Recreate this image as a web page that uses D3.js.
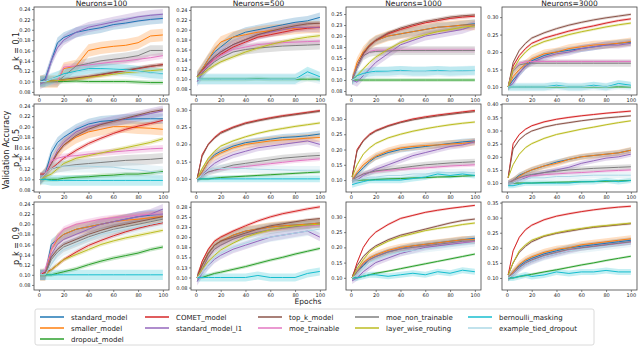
<!DOCTYPE html>
<html>
<head>
<meta charset="utf-8">
<script src="https://cdn.jsdelivr.net/npm/d3@7"></script>
<style>
  body { margin: 0; background: #fff; }
  text { font-family: "DejaVu Sans", sans-serif; fill: #222; }
</style>
</head>
<body>
<div id="chart"></div>
<script>
const epochs = [1, 5, 10, 15, 20, 30, 40, 50, 60, 70, 80, 90, 100];

const seriesNames = ["standard_model", "smaller_model", "dropout_model", "COMET_model",
  "standard_model_l1", "top_k_model", "moe_trainable", "moe_non_trainable",
  "layer_wise_routing", "bernoulli_masking", "example_tied_dropout"];
const seriesColors = ["#1f77b4", "#ff7f0e", "#2ca02c", "#d62728", "#9467bd", "#8c564b",
  "#e377c2", "#7f7f7f", "#bcbd22", "#17becf", "#add8e6"];
// half width of the shaded std band, per series
const bandHalf = [0.010, 0.012, 0.004, 0.004, 0.010, 0.004, 0.006, 0.010, 0.004, 0.010, 0.012];

const neurons = [100, 500, 1000, 3000];
const pkValues = ["0.1", "0.5", "0.9"];
const xTicks = [0, 20, 40, 60, 80, 100];

// --- p_k = 0.1 ---
const acc_p01_n100 = [
  [0.100, 0.105, 0.140, 0.175, 0.185, 0.195, 0.200, 0.204, 0.210, 0.213, 0.217, 0.220, 0.222],
  [0.100, 0.100, 0.100, 0.100, 0.125, 0.130, 0.160, 0.165, 0.168, 0.170, 0.175, 0.188, 0.190],
  [0.100, 0.100, 0.100, 0.100, 0.100, 0.101, 0.100, 0.100, 0.100, 0.100, 0.099, 0.098, 0.098],
  [0.100, 0.100, 0.101, 0.102, 0.103, 0.106, 0.109, 0.113, 0.117, 0.121, 0.125, 0.129, 0.133],
  [0.095, 0.100, 0.140, 0.165, 0.180, 0.195, 0.205, 0.210, 0.215, 0.220, 0.225, 0.228, 0.230],
  [0.100, 0.100, 0.101, 0.102, 0.104, 0.107, 0.110, 0.114, 0.118, 0.122, 0.126, 0.130, 0.132],
  [0.100, 0.100, 0.100, 0.100, 0.128, 0.130, 0.132, 0.135, 0.138, 0.140, 0.143, 0.146, 0.150],
  [0.100, 0.100, 0.100, 0.100, 0.110, 0.130, 0.135, 0.140, 0.143, 0.146, 0.150, 0.160, 0.160],
  [0.100, 0.100, 0.101, 0.102, 0.103, 0.105, 0.108, 0.111, 0.114, 0.117, 0.119, 0.121, 0.123],
  [0.100, 0.100, 0.105, 0.110, 0.115, 0.120, 0.125, 0.125, 0.124, 0.123, 0.120, 0.117, 0.115],
  [0.100, 0.100, 0.105, 0.108, 0.112, 0.118, 0.122, 0.123, 0.122, 0.121, 0.119, 0.116, 0.114]
];
const acc_p01_n500 = [
  [0.105, 0.120, 0.140, 0.155, 0.165, 0.185, 0.195, 0.200, 0.205, 0.210, 0.215, 0.218, 0.225],
  [0.105, 0.120, 0.140, 0.160, 0.175, 0.185, 0.190, 0.195, 0.198, 0.200, 0.203, 0.205, 0.205],
  [0.100, 0.100, 0.100, 0.100, 0.100, 0.100, 0.100, 0.101, 0.100, 0.100, 0.100, 0.100, 0.100],
  [0.105, 0.115, 0.130, 0.140, 0.150, 0.165, 0.175, 0.185, 0.190, 0.195, 0.200, 0.203, 0.205],
  [0.095, 0.110, 0.130, 0.145, 0.155, 0.170, 0.180, 0.190, 0.195, 0.200, 0.205, 0.205, 0.205],
  [0.105, 0.118, 0.133, 0.145, 0.155, 0.170, 0.180, 0.190, 0.197, 0.203, 0.208, 0.212, 0.213],
  [0.105, 0.115, 0.128, 0.140, 0.148, 0.160, 0.165, 0.170, 0.172, 0.174, 0.175, 0.176, 0.177],
  [0.105, 0.113, 0.125, 0.135, 0.143, 0.155, 0.160, 0.163, 0.165, 0.167, 0.168, 0.169, 0.170],
  [0.105, 0.110, 0.120, 0.128, 0.135, 0.145, 0.155, 0.163, 0.170, 0.176, 0.181, 0.185, 0.188],
  [0.100, 0.100, 0.100, 0.100, 0.100, 0.100, 0.100, 0.100, 0.100, 0.100, 0.100, 0.115, 0.105],
  [0.100, 0.100, 0.100, 0.100, 0.100, 0.100, 0.100, 0.100, 0.100, 0.100, 0.100, 0.108, 0.102]
];
const acc_p01_n1000 = [
  [0.100, 0.130, 0.160, 0.180, 0.190, 0.200, 0.205, 0.210, 0.215, 0.220, 0.222, 0.225, 0.228],
  [0.100, 0.140, 0.165, 0.180, 0.190, 0.200, 0.205, 0.210, 0.215, 0.220, 0.222, 0.225, 0.225],
  [0.100, 0.100, 0.100, 0.100, 0.100, 0.100, 0.100, 0.100, 0.100, 0.100, 0.100, 0.100, 0.100],
  [0.100, 0.130, 0.160, 0.178, 0.190, 0.205, 0.215, 0.223, 0.230, 0.235, 0.240, 0.243, 0.245],
  [0.100, 0.095, 0.110, 0.125, 0.140, 0.160, 0.180, 0.190, 0.200, 0.205, 0.210, 0.215, 0.225],
  [0.100, 0.130, 0.160, 0.178, 0.190, 0.207, 0.218, 0.226, 0.233, 0.238, 0.243, 0.246, 0.248],
  [0.100, 0.130, 0.155, 0.165, 0.168, 0.168, 0.168, 0.168, 0.168, 0.168, 0.168, 0.168, 0.168],
  [0.100, 0.130, 0.155, 0.163, 0.165, 0.166, 0.167, 0.167, 0.167, 0.167, 0.167, 0.167, 0.167],
  [0.100, 0.110, 0.125, 0.140, 0.152, 0.170, 0.185, 0.195, 0.203, 0.210, 0.215, 0.220, 0.223],
  [0.100, 0.110, 0.115, 0.118, 0.120, 0.120, 0.122, 0.120, 0.120, 0.122, 0.120, 0.121, 0.122],
  [0.100, 0.105, 0.112, 0.115, 0.117, 0.118, 0.120, 0.119, 0.119, 0.120, 0.119, 0.120, 0.121]
];
const acc_p01_n3000 = [
  [0.100, 0.120, 0.140, 0.160, 0.175, 0.190, 0.200, 0.205, 0.210, 0.215, 0.220, 0.225, 0.228],
  [0.100, 0.130, 0.150, 0.165, 0.180, 0.195, 0.200, 0.210, 0.215, 0.220, 0.222, 0.225, 0.230],
  [0.100, 0.100, 0.100, 0.100, 0.100, 0.100, 0.100, 0.100, 0.100, 0.100, 0.100, 0.100, 0.100],
  [0.100, 0.160, 0.190, 0.210, 0.225, 0.240, 0.250, 0.260, 0.268, 0.275, 0.283, 0.290, 0.295],
  [0.100, 0.110, 0.140, 0.160, 0.170, 0.185, 0.195, 0.200, 0.210, 0.215, 0.220, 0.220, 0.225],
  [0.100, 0.170, 0.205, 0.225, 0.240, 0.255, 0.267, 0.277, 0.285, 0.292, 0.298, 0.303, 0.308],
  [0.100, 0.150, 0.168, 0.172, 0.173, 0.173, 0.173, 0.173, 0.173, 0.173, 0.173, 0.173, 0.173],
  [0.100, 0.145, 0.163, 0.167, 0.168, 0.168, 0.168, 0.168, 0.168, 0.168, 0.168, 0.168, 0.168],
  [0.100, 0.150, 0.180, 0.200, 0.215, 0.230, 0.240, 0.250, 0.258, 0.265, 0.272, 0.278, 0.283],
  [0.100, 0.100, 0.100, 0.100, 0.100, 0.100, 0.105, 0.100, 0.100, 0.105, 0.100, 0.110, 0.105],
  [0.100, 0.100, 0.100, 0.100, 0.100, 0.100, 0.102, 0.100, 0.100, 0.102, 0.100, 0.105, 0.102]
];

// --- p_k = 0.5 ---
const acc_p05_n100 = [
  [0.100, 0.110, 0.150, 0.170, 0.180, 0.195, 0.205, 0.210, 0.212, 0.214, 0.215, 0.215, 0.215],
  [0.100, 0.110, 0.130, 0.150, 0.165, 0.180, 0.190, 0.195, 0.200, 0.200, 0.198, 0.197, 0.195],
  [0.100, 0.100, 0.100, 0.100, 0.102, 0.104, 0.105, 0.107, 0.108, 0.110, 0.110, 0.112, 0.115],
  [0.110, 0.110, 0.120, 0.130, 0.140, 0.155, 0.168, 0.178, 0.187, 0.195, 0.201, 0.206, 0.212],
  [0.100, 0.110, 0.130, 0.155, 0.170, 0.190, 0.200, 0.205, 0.210, 0.215, 0.220, 0.225, 0.230],
  [0.100, 0.110, 0.130, 0.150, 0.165, 0.183, 0.195, 0.204, 0.210, 0.216, 0.222, 0.228, 0.232],
  [0.100, 0.110, 0.135, 0.140, 0.143, 0.145, 0.148, 0.150, 0.152, 0.154, 0.156, 0.158, 0.159],
  [0.100, 0.110, 0.120, 0.123, 0.125, 0.128, 0.130, 0.132, 0.134, 0.136, 0.137, 0.138, 0.140],
  [0.100, 0.105, 0.110, 0.120, 0.130, 0.140, 0.145, 0.150, 0.155, 0.160, 0.165, 0.170, 0.177],
  [0.100, 0.100, 0.098, 0.098, 0.098, 0.098, 0.098, 0.098, 0.098, 0.098, 0.098, 0.098, 0.098],
  [0.100, 0.110, 0.120, 0.125, 0.125, 0.125, 0.125, 0.124, 0.123, 0.120, 0.118, 0.115, 0.113]
];
const acc_p05_n500 = [
  [0.100, 0.120, 0.150, 0.170, 0.180, 0.195, 0.205, 0.210, 0.215, 0.220, 0.222, 0.225, 0.230],
  [0.100, 0.120, 0.150, 0.165, 0.175, 0.190, 0.200, 0.205, 0.210, 0.213, 0.215, 0.218, 0.220],
  [0.100, 0.100, 0.100, 0.102, 0.104, 0.106, 0.108, 0.110, 0.112, 0.114, 0.116, 0.118, 0.120],
  [0.100, 0.170, 0.200, 0.220, 0.235, 0.250, 0.262, 0.270, 0.277, 0.283, 0.288, 0.293, 0.298],
  [0.100, 0.110, 0.130, 0.145, 0.155, 0.170, 0.180, 0.190, 0.195, 0.200, 0.205, 0.210, 0.200],
  [0.100, 0.165, 0.200, 0.218, 0.232, 0.248, 0.260, 0.268, 0.275, 0.281, 0.286, 0.291, 0.296],
  [0.100, 0.110, 0.120, 0.125, 0.128, 0.132, 0.136, 0.140, 0.144, 0.148, 0.152, 0.155, 0.158],
  [0.100, 0.110, 0.120, 0.125, 0.130, 0.140, 0.145, 0.150, 0.155, 0.160, 0.163, 0.166, 0.168],
  [0.100, 0.130, 0.160, 0.180, 0.195, 0.210, 0.222, 0.232, 0.240, 0.246, 0.252, 0.257, 0.262],
  [0.100, 0.100, 0.100, 0.100, 0.100, 0.100, 0.100, 0.100, 0.100, 0.100, 0.100, 0.100, 0.100],
  [0.100, 0.110, 0.125, 0.130, 0.130, 0.130, 0.130, 0.128, 0.127, 0.126, 0.125, 0.125, 0.125]
];
const acc_p05_n1000 = [
  [0.100, 0.120, 0.140, 0.160, 0.175, 0.190, 0.200, 0.205, 0.210, 0.215, 0.220, 0.225, 0.228],
  [0.100, 0.125, 0.150, 0.165, 0.178, 0.195, 0.205, 0.210, 0.213, 0.215, 0.218, 0.220, 0.225],
  [0.100, 0.100, 0.100, 0.100, 0.102, 0.104, 0.105, 0.107, 0.108, 0.110, 0.111, 0.113, 0.115],
  [0.110, 0.200, 0.230, 0.250, 0.262, 0.278, 0.290, 0.300, 0.307, 0.313, 0.318, 0.323, 0.328],
  [0.100, 0.100, 0.115, 0.125, 0.135, 0.150, 0.165, 0.180, 0.190, 0.200, 0.210, 0.215, 0.225],
  [0.110, 0.195, 0.228, 0.247, 0.260, 0.276, 0.288, 0.297, 0.304, 0.310, 0.315, 0.320, 0.324],
  [0.100, 0.110, 0.120, 0.125, 0.128, 0.132, 0.135, 0.138, 0.140, 0.143, 0.146, 0.148, 0.150],
  [0.100, 0.110, 0.120, 0.125, 0.130, 0.135, 0.140, 0.145, 0.150, 0.153, 0.156, 0.158, 0.160],
  [0.110, 0.150, 0.185, 0.205, 0.220, 0.238, 0.250, 0.260, 0.268, 0.275, 0.281, 0.286, 0.290],
  [0.085, 0.090, 0.095, 0.100, 0.100, 0.100, 0.100, 0.105, 0.110, 0.120, 0.115, 0.120, 0.115],
  [0.100, 0.100, 0.105, 0.110, 0.110, 0.115, 0.115, 0.120, 0.120, 0.125, 0.125, 0.125, 0.125]
];
const acc_p05_n3000 = [
  [0.100, 0.110, 0.130, 0.140, 0.150, 0.165, 0.180, 0.190, 0.200, 0.205, 0.210, 0.215, 0.225],
  [0.100, 0.110, 0.125, 0.140, 0.150, 0.165, 0.175, 0.190, 0.200, 0.205, 0.210, 0.215, 0.225],
  [0.100, 0.100, 0.100, 0.100, 0.100, 0.102, 0.103, 0.104, 0.105, 0.106, 0.107, 0.108, 0.110],
  [0.120, 0.250, 0.285, 0.305, 0.318, 0.333, 0.343, 0.350, 0.356, 0.361, 0.366, 0.370, 0.374],
  [0.100, 0.100, 0.110, 0.120, 0.130, 0.140, 0.150, 0.160, 0.175, 0.185, 0.195, 0.200, 0.210],
  [0.120, 0.230, 0.265, 0.285, 0.298, 0.313, 0.323, 0.330, 0.337, 0.343, 0.348, 0.352, 0.356],
  [0.100, 0.110, 0.120, 0.125, 0.128, 0.132, 0.135, 0.138, 0.140, 0.143, 0.146, 0.148, 0.150],
  [0.100, 0.110, 0.120, 0.128, 0.133, 0.140, 0.145, 0.150, 0.153, 0.156, 0.158, 0.160, 0.162],
  [0.120, 0.170, 0.210, 0.235, 0.250, 0.270, 0.285, 0.295, 0.305, 0.313, 0.322, 0.330, 0.337],
  [0.090, 0.090, 0.095, 0.100, 0.100, 0.100, 0.100, 0.100, 0.105, 0.105, 0.110, 0.105, 0.110],
  [0.100, 0.100, 0.110, 0.115, 0.120, 0.120, 0.125, 0.125, 0.128, 0.130, 0.130, 0.130, 0.130]
];

// --- p_k = 0.9 ---
const acc_p09_n100 = [
  [0.100, 0.100, 0.160, 0.170, 0.180, 0.190, 0.195, 0.200, 0.205, 0.210, 0.215, 0.218, 0.220],
  [0.100, 0.100, 0.150, 0.170, 0.180, 0.190, 0.195, 0.200, 0.205, 0.208, 0.210, 0.213, 0.215],
  [0.100, 0.100, 0.100, 0.103, 0.106, 0.112, 0.120, 0.127, 0.133, 0.138, 0.143, 0.150, 0.155],
  [0.100, 0.105, 0.110, 0.120, 0.130, 0.145, 0.158, 0.168, 0.177, 0.185, 0.192, 0.198, 0.203],
  [0.100, 0.100, 0.140, 0.160, 0.170, 0.180, 0.190, 0.200, 0.205, 0.210, 0.215, 0.220, 0.230],
  [0.100, 0.100, 0.135, 0.150, 0.160, 0.170, 0.180, 0.188, 0.195, 0.200, 0.205, 0.210, 0.215],
  [0.100, 0.110, 0.150, 0.175, 0.190, 0.200, 0.205, 0.210, 0.213, 0.215, 0.218, 0.220, 0.220],
  [0.100, 0.100, 0.130, 0.145, 0.155, 0.165, 0.175, 0.183, 0.190, 0.195, 0.200, 0.205, 0.210],
  [0.100, 0.100, 0.110, 0.120, 0.130, 0.140, 0.150, 0.160, 0.167, 0.173, 0.178, 0.183, 0.188],
  [0.100, 0.100, 0.100, 0.100, 0.100, 0.100, 0.100, 0.100, 0.100, 0.100, 0.100, 0.100, 0.100],
  [0.100, 0.100, 0.120, 0.140, 0.150, 0.160, 0.170, 0.180, 0.185, 0.190, 0.195, 0.200, 0.205]
];
const acc_p09_n500 = [
  [0.100, 0.130, 0.160, 0.180, 0.190, 0.205, 0.215, 0.220, 0.225, 0.228, 0.230, 0.232, 0.235],
  [0.100, 0.130, 0.160, 0.180, 0.190, 0.205, 0.215, 0.220, 0.225, 0.228, 0.230, 0.232, 0.235],
  [0.100, 0.100, 0.105, 0.110, 0.113, 0.120, 0.127, 0.135, 0.143, 0.150, 0.158, 0.165, 0.172],
  [0.100, 0.140, 0.170, 0.190, 0.200, 0.215, 0.228, 0.240, 0.250, 0.258, 0.264, 0.270, 0.275],
  [0.090, 0.110, 0.130, 0.145, 0.155, 0.170, 0.180, 0.190, 0.200, 0.205, 0.210, 0.215, 0.200],
  [0.100, 0.130, 0.160, 0.180, 0.190, 0.200, 0.210, 0.220, 0.228, 0.233, 0.238, 0.243, 0.246],
  [0.100, 0.120, 0.150, 0.170, 0.180, 0.195, 0.205, 0.212, 0.218, 0.222, 0.226, 0.228, 0.230],
  [0.100, 0.120, 0.150, 0.170, 0.180, 0.195, 0.205, 0.212, 0.218, 0.222, 0.226, 0.230, 0.232],
  [0.100, 0.120, 0.140, 0.155, 0.168, 0.185, 0.200, 0.210, 0.218, 0.224, 0.228, 0.230, 0.232],
  [0.100, 0.100, 0.100, 0.100, 0.100, 0.100, 0.100, 0.105, 0.100, 0.100, 0.100, 0.110, 0.115],
  [0.100, 0.110, 0.130, 0.150, 0.160, 0.175, 0.185, 0.195, 0.200, 0.205, 0.210, 0.215, 0.220]
];
const acc_p09_n1000 = [
  [0.100, 0.120, 0.140, 0.160, 0.170, 0.185, 0.195, 0.205, 0.210, 0.215, 0.220, 0.225, 0.230],
  [0.100, 0.120, 0.150, 0.165, 0.175, 0.190, 0.200, 0.205, 0.210, 0.215, 0.220, 0.225, 0.225],
  [0.100, 0.100, 0.105, 0.110, 0.115, 0.122, 0.130, 0.138, 0.146, 0.154, 0.162, 0.170, 0.178],
  [0.100, 0.150, 0.200, 0.230, 0.250, 0.275, 0.295, 0.305, 0.315, 0.322, 0.328, 0.333, 0.338],
  [0.090, 0.100, 0.120, 0.135, 0.150, 0.165, 0.180, 0.190, 0.200, 0.205, 0.210, 0.215, 0.220],
  [0.100, 0.140, 0.170, 0.190, 0.205, 0.225, 0.240, 0.250, 0.260, 0.270, 0.280, 0.288, 0.293],
  [0.100, 0.120, 0.145, 0.160, 0.170, 0.185, 0.195, 0.200, 0.205, 0.210, 0.215, 0.218, 0.220],
  [0.100, 0.120, 0.145, 0.160, 0.170, 0.185, 0.195, 0.200, 0.205, 0.210, 0.215, 0.220, 0.222],
  [0.100, 0.130, 0.160, 0.185, 0.200, 0.220, 0.235, 0.245, 0.255, 0.262, 0.268, 0.275, 0.280],
  [0.100, 0.100, 0.105, 0.110, 0.110, 0.105, 0.110, 0.115, 0.110, 0.120, 0.115, 0.125, 0.120],
  [0.100, 0.110, 0.130, 0.150, 0.160, 0.175, 0.185, 0.190, 0.195, 0.200, 0.205, 0.210, 0.215]
];
const acc_p09_n3000 = [
  [0.100, 0.120, 0.140, 0.155, 0.165, 0.180, 0.190, 0.200, 0.205, 0.210, 0.215, 0.220, 0.225],
  [0.100, 0.120, 0.145, 0.160, 0.170, 0.185, 0.195, 0.200, 0.210, 0.215, 0.220, 0.225, 0.230],
  [0.100, 0.100, 0.105, 0.108, 0.112, 0.120, 0.127, 0.135, 0.143, 0.150, 0.158, 0.165, 0.172],
  [0.110, 0.190, 0.235, 0.260, 0.275, 0.293, 0.305, 0.313, 0.320, 0.326, 0.331, 0.335, 0.338],
  [0.100, 0.110, 0.130, 0.145, 0.155, 0.170, 0.180, 0.190, 0.200, 0.205, 0.210, 0.215, 0.220],
  [0.110, 0.150, 0.185, 0.205, 0.220, 0.238, 0.248, 0.255, 0.262, 0.268, 0.272, 0.276, 0.280],
  [0.100, 0.115, 0.135, 0.150, 0.160, 0.175, 0.185, 0.193, 0.200, 0.205, 0.210, 0.213, 0.217],
  [0.100, 0.115, 0.135, 0.150, 0.160, 0.175, 0.185, 0.195, 0.200, 0.205, 0.210, 0.215, 0.220],
  [0.110, 0.150, 0.190, 0.210, 0.225, 0.240, 0.250, 0.258, 0.264, 0.270, 0.274, 0.278, 0.282],
  [0.100, 0.100, 0.105, 0.110, 0.105, 0.110, 0.120, 0.115, 0.120, 0.120, 0.125, 0.120, 0.120],
  [0.100, 0.110, 0.130, 0.145, 0.155, 0.170, 0.180, 0.190, 0.195, 0.200, 0.205, 0.210, 0.215]
];

const panelData = [
  [acc_p01_n100, acc_p01_n500, acc_p01_n1000, acc_p01_n3000],
  [acc_p05_n100, acc_p05_n500, acc_p05_n1000, acc_p05_n3000],
  [acc_p09_n100, acc_p09_n500, acc_p09_n1000, acc_p09_n3000]
];

// y ranges and tick steps per panel (row = p_k, col = neurons)
const yDomains = [
  [[0.074, 0.244], [0.068, 0.246], [0.066, 0.266], [0.077, 0.329]],
  [[0.076, 0.243], [0.062, 0.317], [0.061, 0.349], [0.066, 0.401]],
  [[0.070, 0.244], [0.069, 0.287], [0.060, 0.349], [0.060, 0.352]]
];
const yTickSteps = [
  [0.02, 0.02, 0.025, 0.05],
  [0.02, 0.05, 0.05, 0.05],
  [0.02, 0.025, 0.05, 0.05]
];

const W = 640, H = 346;
const colLeft = [34, 191, 346, 502];
const rowTop = [7, 104, 202];
const pw = 135, ph = 88;

const svg = d3.select("#chart").append("svg")
  .attr("width", W).attr("height", H);

const x = d3.scaleLinear().domain([-3.95, 104.95]).range([0, pw]);

pkValues.forEach(function(pk, r) {
  neurons.forEach(function(n, c) {
    const g = svg.append("g")
      .attr("transform", "translate(" + colLeft[c] + "," + rowTop[r] + ")");
    const dom = yDomains[r][c];
    const y = d3.scaleLinear().domain(dom).range([ph, 0]);
    const step = yTickSteps[r][c];
    const ticks = d3.range(Math.ceil(dom[0] / step - 1e-6) * step, dom[1] + 1e-9, step);
    const fmt = d3.format("." + d3.precisionFixed(step) + "f");

    const clipId = "clip" + r + c;
    g.append("clipPath").attr("id", clipId)
      .append("rect").attr("width", pw).attr("height", ph);

    const plot = g.append("g").attr("clip-path", "url(#" + clipId + ")");
    const series = panelData[r][c];

    const area = d3.area()
      .x((d, i) => x(epochs[i]))
      .y0(d => y(d.v - d.b))
      .y1(d => y(d.v + d.b));
    const line = d3.line()
      .x((d, i) => x(epochs[i]))
      .y(d => y(d));

    series.forEach(function(vals, s) {
      plot.append("path")
        .datum(vals.map(v => ({v: v, b: bandHalf[s]})))
        .attr("d", area)
        .attr("fill", seriesColors[s])
        .attr("opacity", 0.25);
    });
    series.forEach(function(vals, s) {
      plot.append("path")
        .datum(vals)
        .attr("d", line)
        .attr("fill", "none")
        .attr("stroke", seriesColors[s])
        .attr("stroke-width", 1);
    });

    const yAxis = d3.axisLeft(y).tickValues(ticks).tickFormat(fmt).tickSize(2).tickPadding(1.5);
    const xAxis = d3.axisBottom(x).tickValues(xTicks).tickSize(2).tickPadding(1.5);
    const ya = g.append("g").call(yAxis);
    const xa = g.append("g").attr("transform", "translate(0," + ph + ")").call(xAxis);
    [ya, xa].forEach(function(a) {
      a.select(".domain").remove();
      a.selectAll("line").attr("stroke", "#333").attr("stroke-width", 0.6);
      a.selectAll("text").style("font-size", "5px").attr("fill", "#222");
    });

    g.append("rect")
      .attr("width", pw).attr("height", ph)
      .attr("fill", "none").attr("stroke", "#444").attr("stroke-width", 0.8);

    if (r === 0) {
      g.append("text")
        .attr("x", pw / 2).attr("y", -1)
        .attr("text-anchor", "middle")
        .style("font-size", "7.5px")
        .text("Neurons=" + n);
    }
    if (c === 0) {
      g.append("text")
        .attr("transform", "translate(-15," + (ph / 2) + ") rotate(-90)")
        .attr("text-anchor", "middle")
        .style("font-size", "8px")
        .text("p_k = " + pk);
    }
  });
});

svg.append("text")
  .attr("transform", "translate(9,150) rotate(-90)")
  .attr("text-anchor", "middle")
  .style("font-size", "8px")
  .text("Validation Accuracy");

svg.append("text")
  .attr("x", 308).attr("y", 304)
  .attr("text-anchor", "middle")
  .style("font-size", "7.5px")
  .text("Epochs");

// legend: 5 columns, filled column by column (3,2,2,2,2)
const legCols = [40, 145, 258, 355, 468];
const legRows = [319.5, 330.5, 341.5];
const legendSlots = [[0, 0], [0, 1], [0, 2], [1, 0], [1, 1], [2, 0], [2, 1], [3, 0], [3, 1], [4, 0], [4, 1]];

svg.append("rect")
  .attr("x", 35).attr("y", 309).attr("width", 559).attr("height", 36)
  .attr("rx", 2).attr("fill", "#fff").attr("stroke", "#d0d0d0").attr("stroke-width", 0.8);

const leg = svg.append("g");
seriesNames.forEach(function(name, s) {
  const lx = legCols[legendSlots[s][0]];
  const ly = legRows[legendSlots[s][1]];
  leg.append("line")
    .attr("x1", lx).attr("x2", lx + 24)
    .attr("y1", ly - 2.5).attr("y2", ly - 2.5)
    .attr("stroke", seriesColors[s]).attr("stroke-width", 1.5);
  leg.append("text")
    .attr("x", lx + 31).attr("y", ly)
    .style("font-size", "7px")
    .text(name);
});
</script>
</body>
</html>
